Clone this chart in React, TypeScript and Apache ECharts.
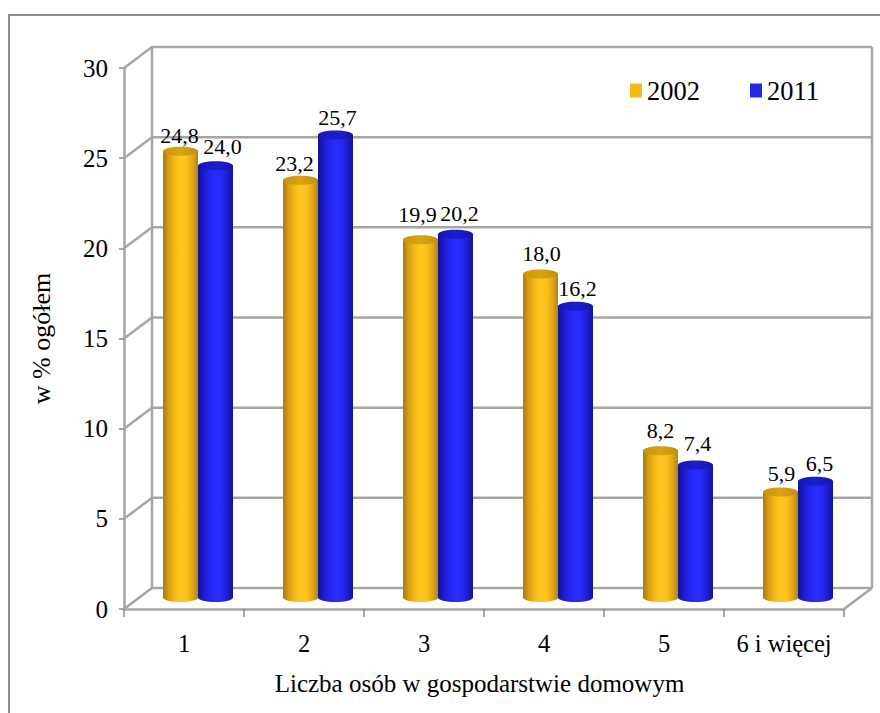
import React, { useEffect, useRef } from "react";
import * as echarts from "echarts";

const categories = ["1", "2", "3", "4", "5", "6 i więcej"];
const values2002 = [24.8, 23.2, 19.9, 18.0, 8.2, 5.9];
const values2011 = [24.0, 25.7, 20.2, 16.2, 7.4, 6.5];
const yTicks = [0, 5, 10, 15, 20, 25, 30];

// hand-placed label nudges of the original, [dx, dy] from the cylinder's top centre
const nudges2002 = [[-1, -16], [-6, -17], [-3, -25], [1, -20], [0, -20], [1, -19]];
const nudges2011 = [[7, -19], [2, -18], [4, -21], [2, -18], [2, -22], [4, -18]];

const DEPTH_X = 28;
const DEPTH_Y = -21;
const BAR_W = 35;
const RY = 4.5;
const FONT = "'Liberation Serif', 'Times New Roman', serif";
const GRID_COLOR = "#a6a6a6";

const fmt = (v: number) => v.toFixed(1).replace(".", ",");

function hGrad(stops: string[]) {
  const n = stops.length - 1;
  return new echarts.graphic.LinearGradient(0, 0, 1, 0, stops.map((color, i) => ({ offset: i / n, color })));
}

const orangeBody = ["#a87c10", "#d9a015", "#f5b918", "#ffc720", "#fdc21e", "#e6aa17", "#b08412"];
const orangeTop = ["#c9960f", "#d09c10", "#d8a412", "#cf9b10", "#c08e0e"];
const blueBody = ["#12128c", "#1c1ccc", "#2426ee", "#2a2cff", "#2628f4", "#1e1ed4", "#141498"];
const blueTop = ["#1616a8", "#1a1ac4", "#1c1cd0", "#1a1ac0", "#1616a4"];

function cylinderSeries(name: string, values: number[], nudges: number[][], color: string, body: string[], top: string[], side: number) {
  return {
    type: "custom",
    name,
    z: 3,
    itemStyle: { color },
    encode: { x: 0, y: 1 },
    data: values.map((v, i) => [categories[i], v]),
    renderItem: (params: any, api: any) => {
      const i = params.dataIndex;
      const v = api.value(1);
      const t = api.coord([i, v]);
      const b = api.coord([i, 0]);
      const cx = t[0] + DEPTH_X / 2 + (side * BAR_W) / 2;
      const yt = t[1] + DEPTH_Y / 2;
      const yb = b[1] + DEPTH_Y / 2 - 1;
      const rx = BAR_W / 2;
      return {
        type: "group",
        children: [
          { type: "ellipse", shape: { cx, cy: yb, rx, ry: RY }, style: { fill: hGrad(body) } },
          { type: "rect", shape: { x: cx - rx, y: yt, width: BAR_W, height: yb - yt }, style: { fill: hGrad(body) } },
          { type: "ellipse", shape: { cx, cy: yt, rx, ry: RY }, style: { fill: hGrad(top) } },
          {
            type: "text",
            z2: 10,
            style: {
              x: cx + nudges[i][0],
              y: yt + nudges[i][1],
              text: fmt(values[i]),
              fill: "#000",
              font: `22px ${FONT}`,
              align: "center",
              verticalAlign: "middle",
            },
          },
        ],
      };
    },
  };
}

const wallSeries = {
  type: "custom",
  name: "walls",
  z: 1,
  silent: true,
  encode: { y: 0 },
  data: yTicks.map((v) => [v]),
  renderItem: (params: any, api: any) => {
    const cs = params.coordSys;
    const v = api.value(0);
    const y = api.coord([0, v])[1];
    const lineStyle = { stroke: GRID_COLOR, lineWidth: 2.5, fill: "none" };
    const x0 = cs.x;
    const x1 = cs.x + cs.width;
    const children: any[] = [
      {
        type: "polyline",
        shape: { points: [[x0, y], [x0 + DEPTH_X, y + DEPTH_Y], [x1 + DEPTH_X, y + DEPTH_Y]] },
        style: lineStyle,
      },
    ];
    if (v === 0) {
      const topY = api.coord([0, 30])[1];
      children.push(
        { type: "line", shape: { x1: x0 + DEPTH_X, y1: y + DEPTH_Y, x2: x0 + DEPTH_X, y2: topY + DEPTH_Y }, style: lineStyle },
        { type: "line", shape: { x1: x1 + DEPTH_X, y1: y + DEPTH_Y, x2: x1 + DEPTH_X, y2: topY + DEPTH_Y }, style: lineStyle },
        { type: "line", shape: { x1, y1: y, x2: x1 + DEPTH_X, y2: y + DEPTH_Y }, style: lineStyle },
      );
    }
    return { type: "group", children };
  },
};

export default function App() {
  const ref = useRef<HTMLDivElement>(null);
  useEffect(() => {
    const chart = echarts.init(ref.current!, undefined, { renderer: "svg" });
    chart.setOption({
      animation: false,
      backgroundColor: "#fff",
      textStyle: { fontFamily: FONT, color: "#000" },
      graphic: [
        {
          type: "rect",
          z: -1,
          silent: true,
          shape: { x: 9, y: 15, width: 900, height: 730 },
          style: { fill: "none", stroke: "#8e8e8e", lineWidth: 2 },
        },
      ],
      grid: { left: 124, top: 68, width: 720, height: 541 },
      legend: {
        left: 630,
        top: 77,
        itemWidth: 12,
        itemHeight: 14,
        itemGap: 50,
        icon: "rect",
        padding: 0,
        selectedMode: false,
        data: ["2002", "2011"],
        textStyle: { fontFamily: FONT, fontSize: 26.5, color: "#000" },
      },
      xAxis: {
        type: "category",
        data: categories,
        name: "Liczba osób w gospodarstwie domowym",
        nameLocation: "middle",
        nameGap: 62,
        nameTextStyle: { fontFamily: FONT, fontSize: 25, color: "#000", padding: [0, 9, 0, 0] },
        axisLine: { show: true, lineStyle: { color: GRID_COLOR, width: 2.5 } },
        axisTick: { show: true, length: 8, alignWithLabel: false, interval: 0, lineStyle: { color: "#888", width: 1.5 } },
        axisLabel: { fontFamily: FONT, fontSize: 24.5, color: "#000", margin: 22, interval: 0 },
        splitLine: { show: false },
      },
      yAxis: {
        type: "value",
        min: 0,
        max: 30,
        interval: 5,
        name: "w % ogółem",
        nameLocation: "middle",
        nameGap: 70,
        nameRotate: 90,
        nameTextStyle: { fontFamily: FONT, fontSize: 26, color: "#000" },
        axisLine: { show: true, lineStyle: { color: GRID_COLOR, width: 2.5 } },
        axisTick: { show: true, length: 5, lineStyle: { color: "#888", width: 1.5 } },
        axisLabel: { fontFamily: FONT, fontSize: 25, color: "#000", margin: 16 },
        splitLine: { show: false },
      },
      series: [
        wallSeries,
        cylinderSeries("2002", values2002, nudges2002, "#f5b918", orangeBody, orangeTop, -1),
        cylinderSeries("2011", values2011, nudges2011, "#2426e8", blueBody, blueTop, 1),
      ],
    });
    return () => chart.dispose();
  }, []);
  return <div ref={ref} style={{ position: "fixed", left: 0, top: 0, width: 880, height: 713 }} />;
}
